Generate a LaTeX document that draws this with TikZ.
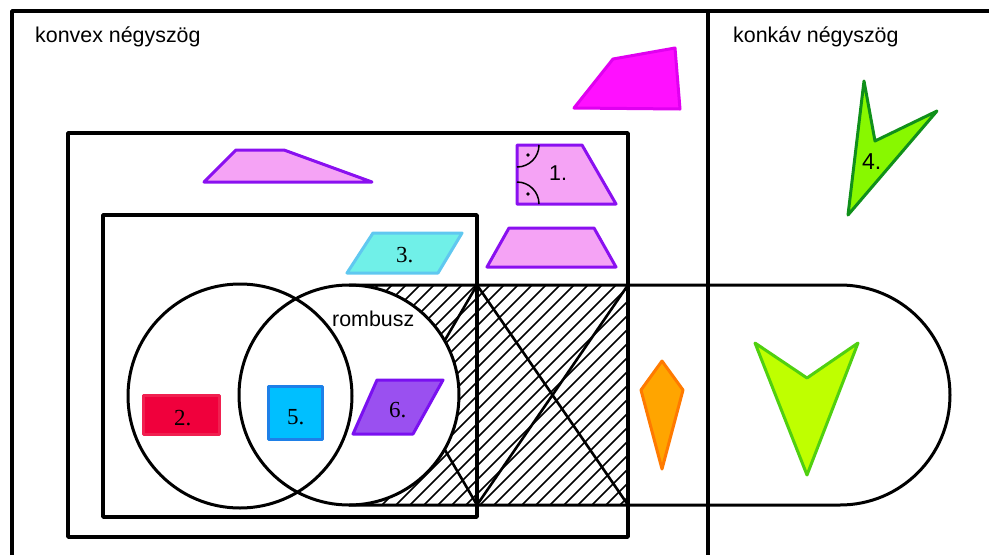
\documentclass[tikz,border=0pt]{standalone}
\usepackage{fontspec}
\setmainfont{Liberation Serif}
\newfontfamily\lsans{Liberation Sans}
\begin{document}
\begin{tikzpicture}[x=1pt,y=-1pt,line join=round,
  frame/.style={line width=3.4pt},
  setline/.style={line width=3pt},
  shp/.style={line width=3pt},
  sanslbl/.style={inner sep=0pt,anchor=base west,font=\lsans\fontsize{21.4}{25}\selectfont},
  serlbl/.style={inner sep=0pt,anchor=base west,font=\fontsize{23}{27}\selectfont},
]
\definecolor{magF}{HTML}{FF10FF}\definecolor{magD}{HTML}{E000F0}
\definecolor{pinkF}{HTML}{F5A3F5}\definecolor{pinkD}{HTML}{8A10F0}
\definecolor{cyF}{HTML}{70F0E8}\definecolor{cyD}{HTML}{60C8F0}
\definecolor{redF}{HTML}{F0003C}\definecolor{redD}{HTML}{F02050}
\definecolor{bluF}{HTML}{00BFFF}\definecolor{bluD}{HTML}{1E80E8}
\definecolor{purF}{HTML}{9A50F0}\definecolor{purD}{HTML}{7A10F0}
\definecolor{orF}{HTML}{FFA500}\definecolor{orD}{HTML}{FF7A00}
\definecolor{limF}{HTML}{BFFF00}\definecolor{limD}{HTML}{50D010}
\definecolor{grF}{HTML}{88F800}\definecolor{grD}{HTML}{10901A}
\useasboundingbox (0,0) rectangle (989,555);
% hatched region
\begin{scope}
  \clip (349,285) -- (628,285) -- (628,505) -- (349,505) arc[start angle=90,end angle=-90,radius=110] -- cycle;
  \foreach \c in {130,144,...,640} \draw[line width=1.6pt] (\c,505) -- ++(220,-220);
  \draw[line width=2.6pt] (477,285) -- (628,505) (628,285) -- (477,505)
        (477,285) -- (349,505) (349,285) -- (477,505);
\end{scope}
% frames
\draw[frame] (12,555) -- (12,11) -- (989,11);
\draw[frame] (708,11) -- (708,555);
\draw[frame] (68,133) rectangle (628,537);
\draw[frame] (103,215) rectangle (477,517);
% circles and stadium
\draw[setline] (240,396) circle[radius=112];
\draw[setline] (349,395) circle[radius=110];
\draw[setline] (349,285) -- (840,285) arc[start angle=-90,end angle=90,radius=110] -- (349,505);
% shapes
\draw[shp,draw=magD,fill=magF] (574,108) -- (613,59) -- (675,48) -- (680,109) -- cycle;
\draw[shp,draw=pinkD,fill=pinkF] (204,182) -- (236,150) -- (284,150) -- (372,182) -- cycle;
\draw[shp,draw=pinkD,fill=pinkF] (517,145) -- (582,145) -- (616,204) -- (517,204) -- cycle;
\draw[line width=1.5pt] (539,145) arc[start angle=0,end angle=90,radius=22];
\draw[line width=1.5pt] (517,182) arc[start angle=-90,end angle=0,radius=22];
\fill (528,155) circle[radius=1.8] (528,194) circle[radius=1.8];
\draw[shp,draw=pinkD,fill=pinkF] (509,228) -- (594,228) -- (616,267) -- (487,267) -- cycle;
\draw[shp,draw=cyD,fill=cyF] (373,233) -- (462,233) -- (438,273) -- (347,273) -- cycle;
\draw[shp,draw=redD,fill=redF] (143,395) rectangle (219,434);
\draw[shp,draw=bluD,fill=bluF] (268,386) rectangle (322,439);
\draw[shp,draw=purD,fill=purF] (377,380) -- (443,380) -- (413,434) -- (353,434) -- cycle;
\draw[shp,draw=orD,fill=orF] (662,361) -- (683,390) -- (662,469) -- (641,390) -- cycle;
\draw[shp,draw=limD,fill=limF] (755,343) -- (807,378) -- (858,343) -- (807,475) -- cycle;
\draw[shp,draw=grD,fill=grF] (864,81) -- (875,141) -- (937,111) -- (848,215) -- cycle;
% labels
\node[sanslbl] (konvex) at (35,42) {konvex négyszög};
\node[sanslbl] (konkav) at (733,42) {konkáv négyszög};
\node[sanslbl] (rombusz) at (332,326) {rombusz};
\node[sanslbl] (n1) at (549,180) {1.};
\node[serlbl] (n2) at (174,425) {2.};
\node[serlbl] (n3) at (396,262) {3.};
\node[sanslbl,font=\lsans\fontsize{23}{27}\selectfont] (n4) at (862,169) {4.};
\node[serlbl] (n5) at (287,424) {5.};
\node[serlbl] (n6) at (389,417) {6.};
\end{tikzpicture}
\end{document}
